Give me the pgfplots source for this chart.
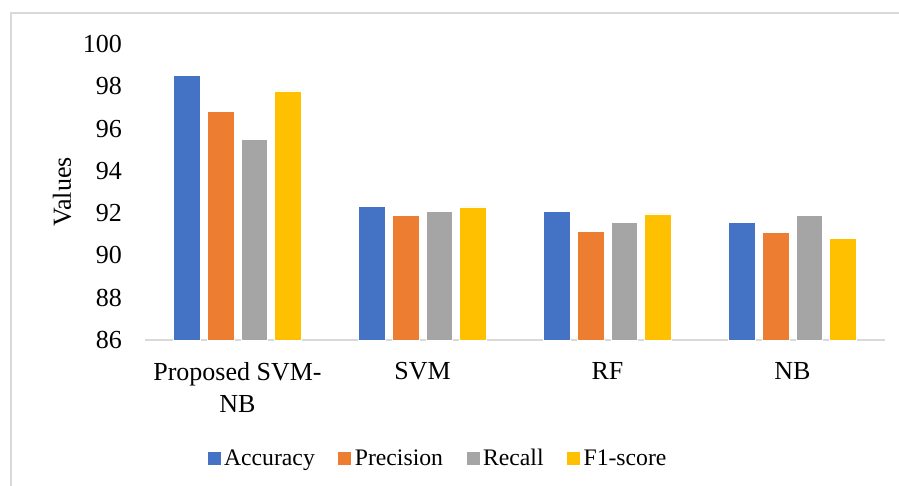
\documentclass[border=0pt]{standalone}
\usepackage{pgfplots}
\pgfplotsset{compat=1.18}
\usepackage{fontspec}
\setmainfont{Liberation Serif}
\definecolor{cA}{HTML}{4472C4}
\definecolor{cP}{HTML}{ED7D31}
\definecolor{cR}{HTML}{A5A5A5}
\definecolor{cF}{HTML}{FFC000}
\definecolor{frame}{HTML}{D9D9D9}
\pgfplotsset{sq legend/.style={legend image code/.code={\fill[##1,draw=none] (0pt,-6.5pt) rectangle (13pt,6.5pt);}}}
\begin{document}
\begin{tikzpicture}[x=1pt,y=1pt]
\path[use as bounding box] (0,0) rectangle (899,485);
\draw[color=frame, line width=1.3pt] (11,-5) -- (11,472) -- (905,472);
\begin{axis}[
  at={(145pt,145pt)}, anchor=south west,
  width=740pt, height=296pt, scale only axis,
  ymin=86, ymax=100, xmin=-0.5, xmax=3.5,
  ytick={86,88,...,100}, xtick={0,1,2,3},
  xticklabels={{Proposed SVM-\\NB},SVM,RF,NB},
  axis x line*=bottom, axis y line*=left,
  y axis line style={draw=none},
  x axis line style={draw=frame, line width=1.8pt, -},
  major tick length=0pt,
  /pgf/number format/assume math mode=true,
  yticklabel style={font=\fontsize{26}{30}\selectfont, anchor=east, inner sep=0pt, xshift=-23pt},
  xticklabel style={font=\fontsize{26}{32}\selectfont, align=center, anchor=north, inner sep=0pt, yshift=-22pt},
  ylabel={Values},
  ylabel style={font=\fontsize{26}{30}\selectfont, at={(axis description cs:-0.112,0.5)}, anchor=center},
  ybar=7pt, bar width=26.7pt,
  legend columns=4,
  legend style={draw=none, at={(0.397,-0.399)}, anchor=center,
    font=\fontsize{23.7}{28}\selectfont,
    nodes={inner xsep=3.5pt},
    /tikz/every even column/.append style={column sep=20pt}},
]
\addplot[fill=cA, draw=white, line width=0.5pt, sq legend] coordinates {(0,98.5) (1,92.33) (2,92.09) (3,91.55)};
\addplot[fill=cP, draw=white, line width=0.5pt, sq legend] coordinates {(0,96.8) (1,91.88) (2,91.14) (3,91.08)};
\addplot[fill=cR, draw=white, line width=0.5pt, sq legend] coordinates {(0,95.5) (1,92.09) (2,91.55) (3,91.88)};
\addplot[fill=cF, draw=white, line width=0.5pt, sq legend] coordinates {(0,97.78) (1,92.3) (2,91.96) (3,90.82)};
\legend{Accuracy,Precision,Recall,F1-score}
\end{axis}
\end{tikzpicture}
\end{document}
